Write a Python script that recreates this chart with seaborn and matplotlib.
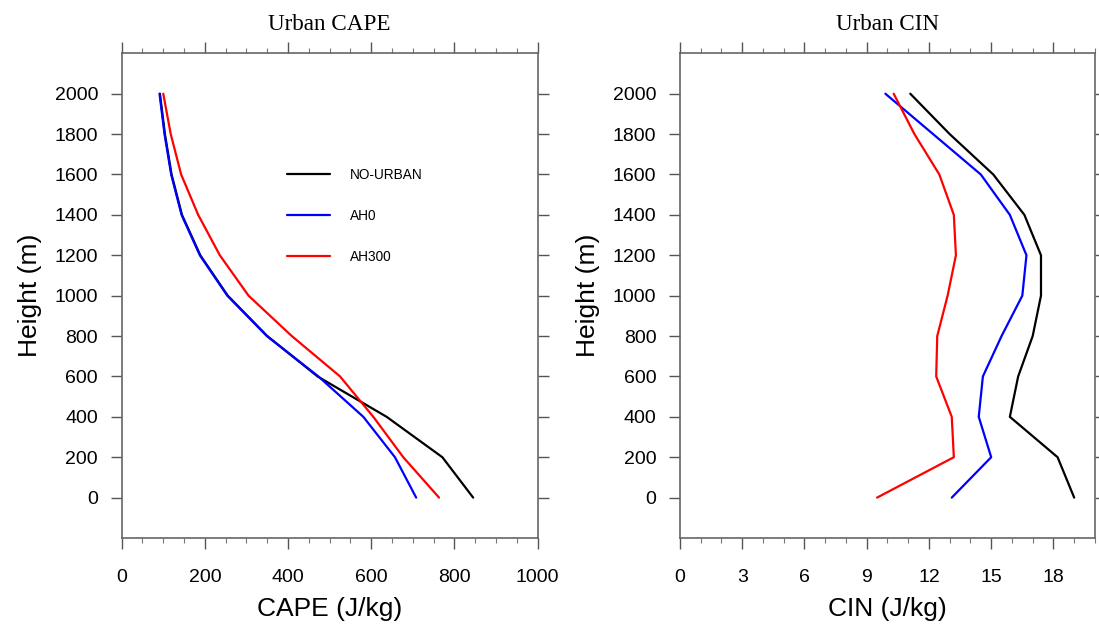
import numpy as np
import pandas as pd
import matplotlib
matplotlib.use("Agg")
import matplotlib.pyplot as plt
from matplotlib.ticker import MultipleLocator
import seaborn as sns

# ---- data ----
heights = [0, 200, 400, 600, 800, 1000, 1200, 1400, 1600, 1800, 2000]
series_names = ["NO-URBAN", "AH0", "AH300"]
series_colors = ["black", "blue", "red"]

cape_nourban = [845, 771, 637, 471, 350, 255, 189, 145, 120, 104, 92]
cape_ah0 = [708, 657, 581, 473, 349, 254, 188, 144, 119, 103, 91]
cape_ah300 = [763, 677, 605, 525, 409, 305, 236, 184, 143, 118, 100]

cin_nourban = [19.0, 18.2, 15.9, 16.3, 17.0, 17.4, 17.4, 16.6, 15.1, 13.0, 11.1]
cin_ah0 = [13.1, 15.0, 14.4, 14.6, 15.5, 16.5, 16.7, 15.9, 14.5, 12.2, 9.9]
cin_ah300 = [9.5, 13.2, 13.1, 12.35, 12.4, 12.9, 13.3, 13.2, 12.5, 11.3, 10.3]

cape_df = pd.DataFrame({
    "height": heights * 3,
    "value": cape_nourban + cape_ah0 + cape_ah300,
    "case": [n for n in series_names for _ in heights],
})
cin_df = pd.DataFrame({
    "height": heights * 3,
    "value": cin_nourban + cin_ah0 + cin_ah300,
    "case": [n for n in series_names for _ in heights],
})

sns.set_theme(style="white")
plt.rcParams["font.family"] = ["Liberation Sans", "DejaVu Sans"]
plt.rcParams["text.color"] = "black"
plt.rcParams["axes.labelcolor"] = "black"
plt.rcParams["xtick.color"] = "black"
plt.rcParams["ytick.color"] = "black"

fig = plt.figure(figsize=(10.99, 6.25), dpi=100)
ax1 = fig.add_axes([0.1107, 0.1392, 0.3785, 0.7755])
ax2 = fig.add_axes([0.6187, 0.1392, 0.3776, 0.7755])

palette = dict(zip(series_names, series_colors))

for ax, df, xlab, title, xlim, xmaj, xmin in [
    (ax1, cape_df, "CAPE (J/kg)", "Urban CAPE", (0, 1000), 200, 50),
    (ax2, cin_df, "CIN (J/kg)", "Urban CIN", (0, 20), 3, 1),
]:
    sns.lineplot(data=df, x="value", y="height", hue="case", palette=palette,
                 hue_order=series_names, sort=False, estimator=None,
                 linewidth=1.6, ax=ax, legend=(ax is ax1))
    ax.set_xlim(*xlim)
    ax.set_ylim(-200, 2200)
    ax.xaxis.set_major_locator(MultipleLocator(xmaj))
    ax.xaxis.set_minor_locator(MultipleLocator(xmin))
    ax.set_yticks(heights)
    ax.tick_params(axis="both", which="major", direction="out", length=8,
                   width=1.0, color="#555555", labelsize=14, labelcolor="black",
                   top=True, right=True, bottom=True, left=True,
                   labeltop=False, labelright=False)
    ax.tick_params(axis="x", which="major", pad=14)
    ax.tick_params(axis="y", which="major", pad=9)
    ax.tick_params(axis="x", which="minor", direction="out", length=3.5,
                   width=0.8, color="#777777", top=True, bottom=True)
    for sp in ax.spines.values():
        sp.set_color("#666666")
        sp.set_linewidth(1.2)
    ax.set_xlabel(xlab, fontsize=19, labelpad=8)
    ax.set_ylabel("Height (m)", fontsize=19, labelpad=9)
    ax.set_title(title, fontsize=16.7, family=["Liberation Serif", "DejaVu Serif"],
                 pad=17, color="black")
    ax.set_facecolor("white")

leg = ax1.legend(loc="upper left", bbox_to_anchor=(0.382, 0.777), frameon=False,
                 fontsize=9.8, handlelength=3.15, handletextpad=1.47,
                 labelspacing=1.96, borderpad=0)
for line in leg.get_lines():
    line.set_linewidth(1.6)

fig.savefig("out.png", dpi=100)
